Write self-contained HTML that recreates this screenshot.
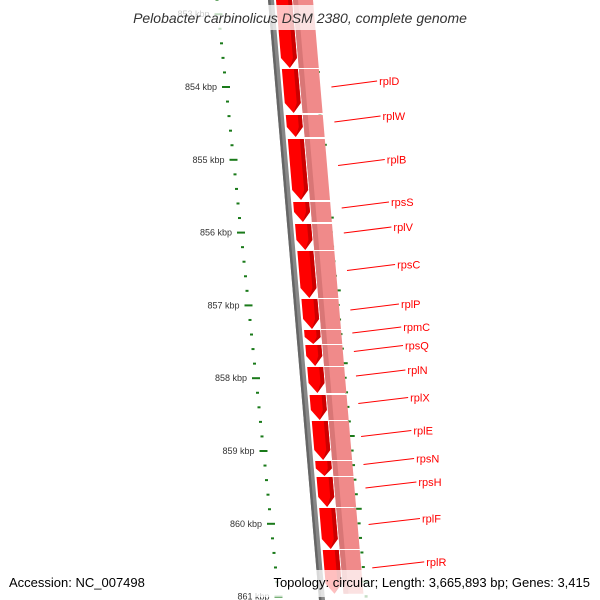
<!DOCTYPE html>
<html><head><meta charset="utf-8"><style>
html,body{margin:0;padding:0;background:#fff;}
svg{display:block;font-family:"Liberation Sans",sans-serif;}
</style></head><body>
<svg id="chart" width="600" height="600" viewBox="0 0 600 600" xmlns="http://www.w3.org/2000/svg">
<g id="ticks"></g>
<g id="band"></g>
<g id="labels"></g>
<rect x="110" y="5" width="380" height="25" fill="#fff" opacity="0.75"/>
<text x="300" y="23" text-anchor="middle" font-size="14" font-style="italic" fill="#333">Pelobacter carbinolicus DSM 2380, complete genome</text>
<rect x="255" y="570" width="345" height="27" fill="#fff" opacity="0.75"/>
<text x="9" y="587" font-size="13" fill="#000">Accession: NC_007498</text>
<text x="590" y="587" text-anchor="end" font-size="13" fill="#000">Topology: circular; Length: 3,665,893 bp; Genes: 3,415</text>
</svg>
<script>
const geneNames = ["", "rplD","rplW","rplB","rpsS","rplV","rpsC","rplP","rpmC","rpsQ","rplN","rplX","rplE","rpsN","rpsH","rplF","rplR"];
const geneStarts = [852.70,853.753,854.385,854.714,855.580,855.882,856.253,856.912,857.338,857.544,857.846,858.231,858.588,859.137,859.357,859.783,860.360];
const geneEnds   = [853.739,854.357,854.687,855.552,855.854,856.239,856.898,857.324,857.530,857.832,858.203,858.574,859.124,859.343,859.769,860.346,860.960];
const majorTicks = [853,854,855,856,857,858,859,860,861];
const tickLabels = ["853 kbp","854 kbp","855 kbp","856 kbp","857 kbp","858 kbp","859 kbp","860 kbp","861 kbp"];

const NS="http://www.w3.org/2000/svg";
function Y(k){return 87+(k-854)*72.8;}
function cx(y){return 284+0.085*y;}
function mk(tag,attrs,parent){const e=document.createElementNS(NS,tag);for(const a in attrs)e.setAttribute(a,attrs[a]);parent.appendChild(e);return e;}
const band=document.getElementById('band'),labels=document.getElementById('labels'),ticks=document.getElementById('ticks');

// backbone
const bb=mk('polygon',{points:`${cx(-5)-16},-5 ${cx(-5)-10},-5 ${cx(605)-10},605 ${cx(605)-16},605`,fill:'#888'},band);


const bb2=mk('polygon',{points:`${cx(-5)-16},-5 ${cx(-5)-13.5},-5 ${cx(605)-13.5},605 ${cx(605)-16},605`,fill:'#666'},band);



function quad(y1,y2,a,b,fill,name){
  const p=mk('polygon',{points:`${cx(y1)+a},${y1} ${cx(y1)+b},${y1} ${cx(y2)+b},${y2} ${cx(y2)+a},${y2}`,fill:fill},band);
  
  
  return p;
}

for(let i=0;i<geneNames.length;i++){
  const y1=Y(geneStarts[i]), y2=Y(geneEnds[i]);
  const nm=geneNames[i]||'gene-unlabeled';
  // pink feature band
  quad(y1,y2,9,29,'#f08a8a','pink-segment-'+nm);
  quad(y1,y2,9,14,'#d97676','pink-shade-'+nm);
  // red arrow
  const h=Math.min(10,(y2-y1)*0.5), yh=y2-h;
  const arr=mk('polygon',{points:`${cx(y1)-8},${y1} ${cx(y1)+8},${y1} ${cx(yh)+8},${yh} ${cx(y2)},${y2} ${cx(yh)-8},${yh}`,fill:'#ff0000'},band);
  
  
  const sh=mk('polygon',{points:`${cx(y1)+4},${y1} ${cx(y1)+8},${y1} ${cx(yh)+8},${yh} ${cx(y2)},${y2} ${cx(yh)+4},${yh}`,fill:'#cc0000'},band);
  
  
  if(geneNames[i]){
    const mid=(y1+y2)/2, ly=mid-10, lx=379+0.098*(ly-80);
    const ln=mk('line',{x1:cx(mid-4)+40,y1:mid-4,x2:lx-2,y2:ly,stroke:'#ff0000','stroke-width':1},labels);
    
    
    const t=mk('text',{x:lx,y:ly+4,'font-size':11,fill:'#ff0000'},labels);
    t.textContent=geneNames[i];
    
    
  }
}

// tick rings
for(let k=852.6;k<861.3;k+=0.2){
  const kk=Math.round(k*10)/10;
  const major=Math.abs(kk-Math.round(kk))<0.01;
  const yl=Y(kk), xl=226+0.103*(yl-87);
  const d=mk('rect',{x:major?xl-4:xl-1.5,y:yl-1,width:major?8:3,height:2,fill:'#1a7a1a'},ticks);
  
  
  const yr=yl-15, xr=313+0.096*(yr-43);
  const r=mk('rect',{x:major?xr-4:xr-1.5,y:yr-1,width:major?8:3,height:2,fill:'#1a7a1a'},ticks);
  
  
}
for(let i=0;i<majorTicks.length;i++){
  const y=Y(majorTicks[i]), x=226+0.103*(y-87);
  const t=mk('text',{x:x-9,y:y+3,'text-anchor':'end','font-size':9,fill:'#333'},ticks);
  t.textContent=tickLabels[i];
  
  
}
</script>
</body></html>
